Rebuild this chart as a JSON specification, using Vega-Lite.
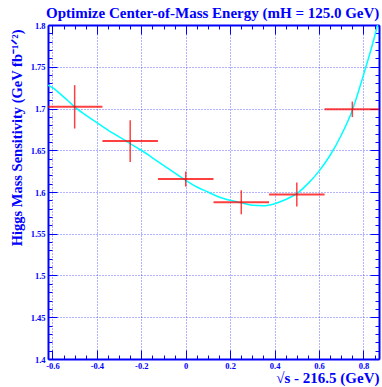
{
  "$schema": "https://vega.github.io/schema/vega-lite/v6.json",
  "autosize": {"type": "none"},
  "padding": {"left": 48, "top": 25, "right": 3, "bottom": 28},
  "width": 331,
  "height": 334,
  "background": "white",
  "title": {"text": "Optimize Center-of-Mass Energy (mH = 125.0 GeV)", "font": "Liberation Serif", "fontWeight": "bold", "fontSize": 15, "color": "#0000ff", "anchor": "start", "frame": "group", "offset": 0, "dx": -2},
  "config": {"view": {"stroke": null}},
  "datasets": {
    "fit": [
      {"x": -0.62, "y": 1.728}, {"x": -0.6, "y": 1.725}, {"x": -0.55, "y": 1.714}, {"x": -0.5, "y": 1.702},
      {"x": -0.45, "y": 1.692}, {"x": -0.4, "y": 1.683}, {"x": -0.35, "y": 1.674}, {"x": -0.3, "y": 1.666},
      {"x": -0.25, "y": 1.658}, {"x": -0.2, "y": 1.65}, {"x": -0.15, "y": 1.641}, {"x": -0.1, "y": 1.632},
      {"x": -0.05, "y": 1.623}, {"x": 0, "y": 1.614}, {"x": 0.05, "y": 1.606}, {"x": 0.1, "y": 1.6},
      {"x": 0.15, "y": 1.594}, {"x": 0.2, "y": 1.59}, {"x": 0.25, "y": 1.587}, {"x": 0.3, "y": 1.584},
      {"x": 0.35, "y": 1.5835}, {"x": 0.4, "y": 1.586}, {"x": 0.45, "y": 1.591}, {"x": 0.5, "y": 1.598},
      {"x": 0.55, "y": 1.61}, {"x": 0.6, "y": 1.625}, {"x": 0.65, "y": 1.644}, {"x": 0.7, "y": 1.668},
      {"x": 0.75, "y": 1.698}, {"x": 0.8, "y": 1.74}, {"x": 0.85, "y": 1.786}, {"x": 0.875, "y": 1.812}
    ],
    "pts": [
      {"x": -0.5, "y": 1.702, "ylo": 1.676, "yhi": 1.728, "xlo": -0.625, "xhi": -0.375},
      {"x": -0.25, "y": 1.661, "ylo": 1.636, "yhi": 1.686, "xlo": -0.375, "xhi": -0.125},
      {"x": 0, "y": 1.6155, "ylo": 1.6065, "yhi": 1.6245, "xlo": -0.125, "xhi": 0.125},
      {"x": 0.25, "y": 1.5877, "ylo": 1.5733, "yhi": 1.6021, "xlo": 0.125, "xhi": 0.375},
      {"x": 0.5, "y": 1.597, "ylo": 1.5826, "yhi": 1.6114, "xlo": 0.375, "xhi": 0.625},
      {"x": 0.75, "y": 1.699, "ylo": 1.6897, "yhi": 1.7083, "xlo": 0.625, "xhi": 0.875}
    ]
  },
  "resolve": {"scale": {"x": "independent", "y": "independent"}},
  "layer": [
    {
      "data": {"name": "fit"},
      "mark": {"type": "line", "color": "#00ffff", "strokeWidth": 1.5, "clip": true, "interpolate": "monotone"},
      "encoding": {
        "x": {"field": "x", "type": "quantitative", "scale": {"domain": [-0.62, 0.87], "nice": false, "zero": false},
          "axis": {
            "orient": "bottom",
            "values": [-0.6,-0.55,-0.5,-0.45,-0.4,-0.35,-0.3,-0.25,-0.2,-0.15,-0.1,-0.05,0,0.05,0.1,0.15,0.2,0.25,0.3,0.35,0.4,0.45,0.5,0.55,0.6,0.65,0.7,0.75,0.8,0.85],
            "labelExpr": "abs(datum.value*5-round(datum.value*5))<1e-6 ? ''+round(datum.value*10)/10 : ''",
            "labelFont": "Liberation Serif", "labelFontWeight": "bold", "labelFontSize": 8.5, "labelColor": "#0000ff",
            "labelPadding": 11, "labelFlush": false, "labelOverlap": false,
            "tickColor": "#0000ff", "tickWidth": 1,
            "tickSize": {"condition": {"test": "abs(datum.value*5-round(datum.value*5))<1e-6", "value": -9}, "value": -4},
            "domainColor": "#0000ff", "domainWidth": 2,
            "grid": true, "gridColor": "#0000ff", "gridDash": [1, 2], "gridWidth": 1,
            "gridOpacity": {"condition": {"test": "abs(datum.value*5-round(datum.value*5))<1e-6", "value": 0.6}, "value": 0},
            "title": "√s - 216.5 (GeV)", "titleAnchor": "end", "titleFont": "Liberation Serif", "titleFontWeight": "bold",
            "titleFontSize": 15, "titleColor": "#0000ff", "titlePadding": -4
          }
        },
        "y": {"field": "y", "type": "quantitative", "scale": {"domain": [1.4, 1.8], "nice": false, "zero": false},
          "axis": {
            "orient": "left",
            "values": [1.4,1.41,1.42,1.43,1.44,1.45,1.46,1.47,1.48,1.49,1.5,1.51,1.52,1.53,1.54,1.55,1.56,1.57,1.58,1.59,1.6,1.61,1.62,1.63,1.64,1.65,1.66,1.67,1.68,1.69,1.7,1.71,1.72,1.73,1.74,1.75,1.76,1.77,1.78,1.79,1.8],
            "labelExpr": "abs(datum.value*20-round(datum.value*20))<1e-6 ? ''+round(datum.value*100)/100 : ''",
            "labelFont": "Liberation Serif", "labelFontWeight": "bold", "labelFontSize": 8.5, "labelColor": "#0000ff",
            "labelPadding": 12, "labelFlush": false, "labelOverlap": false,
            "tickColor": "#0000ff", "tickWidth": 1,
            "tickSize": {"condition": {"test": "abs(datum.value*20-round(datum.value*20))<1e-6", "value": -9}, "value": -4},
            "domainColor": "#0000ff", "domainWidth": 2,
            "grid": true, "gridColor": "#0000ff", "gridDash": [1, 2], "gridWidth": 1,
            "gridOpacity": {"condition": {"test": "abs(datum.value*20-round(datum.value*20))<1e-6", "value": 0.6}, "value": 0},
            "title": "Higgs Mass Sensitivity (GeV fb⁻¹ᐟ²)", "titleAnchor": "end", "titleFont": "Liberation Serif", "titleFontWeight": "bold",
            "titleFontSize": 14.5, "titleColor": "#0000ff", "titlePadding": 6, "titleY": 4
          }
        }
      }
    },
    {
      "data": {"name": "pts"},
      "mark": {"type": "rule", "color": "#ff0000", "strokeWidth": 1.5, "opacity": 0.75, "clip": true},
      "encoding": {
        "x": {"field": "x", "type": "quantitative", "scale": {"domain": [-0.62, 0.87], "nice": false, "zero": false}, "axis": null},
        "y": {"field": "ylo", "type": "quantitative", "scale": {"domain": [1.4, 1.8], "nice": false, "zero": false}, "axis": null},
        "y2": {"field": "yhi"}
      }
    },
    {
      "data": {"name": "pts"},
      "mark": {"type": "rule", "color": "#ff0000", "strokeWidth": 2, "opacity": 0.75, "clip": true},
      "encoding": {
        "x": {"field": "xlo", "type": "quantitative", "scale": {"domain": [-0.62, 0.87], "nice": false, "zero": false}, "axis": null},
        "x2": {"field": "xhi"},
        "y": {"field": "y", "type": "quantitative", "scale": {"domain": [1.4, 1.8], "nice": false, "zero": false}, "axis": null}
      }
    },
    {
      "data": {"name": "pts"},
      "mark": {"type": "point", "opacity": 0},
      "encoding": {
        "x": {"field": "x", "type": "quantitative", "scale": {"domain": [-0.62, 0.87], "nice": false, "zero": false},
          "axis": {
            "orient": "top", "title": null, "labels": false, "grid": false,
            "values": [-0.6,-0.55,-0.5,-0.45,-0.4,-0.35,-0.3,-0.25,-0.2,-0.15,-0.1,-0.05,0,0.05,0.1,0.15,0.2,0.25,0.3,0.35,0.4,0.45,0.5,0.55,0.6,0.65,0.7,0.75,0.8,0.85],
            "tickColor": "#0000ff", "tickWidth": 1,
            "tickSize": {"condition": {"test": "abs(datum.value*5-round(datum.value*5))<1e-6", "value": -9}, "value": -4},
            "domainColor": "#0000ff", "domainWidth": 2
          }
        },
        "y": {"field": "y", "type": "quantitative", "scale": {"domain": [1.4, 1.8], "nice": false, "zero": false},
          "axis": {
            "orient": "right", "title": null, "labels": false, "grid": false,
            "values": [1.4,1.41,1.42,1.43,1.44,1.45,1.46,1.47,1.48,1.49,1.5,1.51,1.52,1.53,1.54,1.55,1.56,1.57,1.58,1.59,1.6,1.61,1.62,1.63,1.64,1.65,1.66,1.67,1.68,1.69,1.7,1.71,1.72,1.73,1.74,1.75,1.76,1.77,1.78,1.79,1.8],
            "tickColor": "#0000ff", "tickWidth": 1,
            "tickSize": {"condition": {"test": "abs(datum.value*20-round(datum.value*20))<1e-6", "value": -9}, "value": -4},
            "domainColor": "#0000ff", "domainWidth": 2
          }
        }
      }
    }
  ]
}
